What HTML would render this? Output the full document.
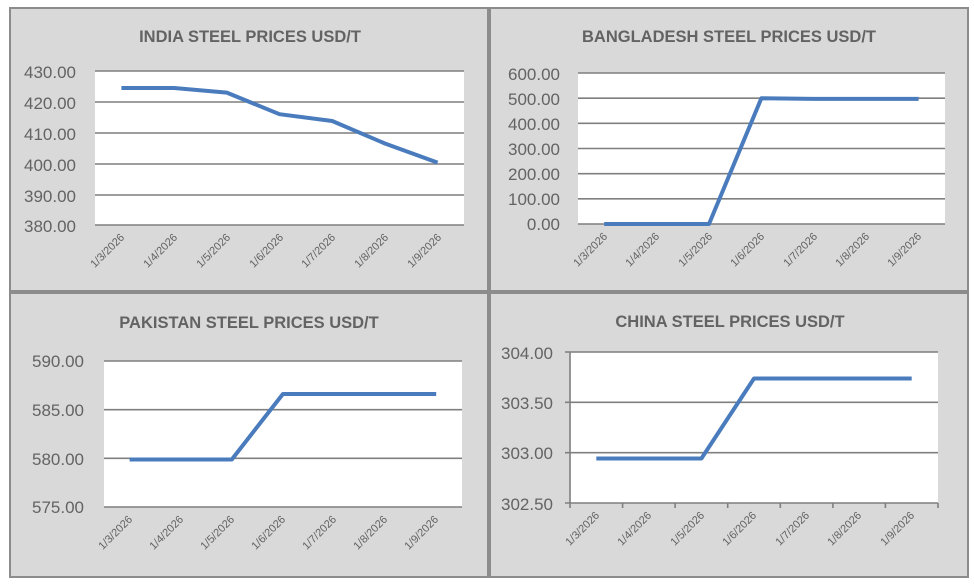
<!DOCTYPE html>
<html><head><meta charset="utf-8"><style>
html,body{margin:0;padding:0;background:#fff;}
svg{display:block;}
text{font-family:"Liberation Sans",sans-serif;fill:#636363;}
.t{font-size:16.5px;font-weight:bold;text-anchor:middle;}
.y{font-size:17px;text-anchor:end;}
.x{font-size:11px;text-anchor:end;}
.g{stroke:#7f7f7f;stroke-width:1.6;}
.s{fill:none;stroke:#4a7cbd;stroke-width:4;stroke-linejoin:round;}
</style></head><body>
<svg width="974" height="588" viewBox="0 0 974 588">
<!-- panels -->
<rect x="10" y="8" width="478" height="283" fill="#d9d9d9" stroke="#8c8c8c" stroke-width="2"/>
<rect x="490" y="8" width="478" height="283" fill="#d9d9d9" stroke="#8c8c8c" stroke-width="2"/>
<rect x="10" y="293" width="478" height="284" fill="#d9d9d9" stroke="#8c8c8c" stroke-width="2"/>
<rect x="490" y="293" width="478" height="284" fill="#d9d9d9" stroke="#8c8c8c" stroke-width="2"/>

<!-- INDIA -->
<text class="t" x="250" y="42">INDIA STEEL PRICES USD/T</text>
<rect x="95" y="71" width="369" height="154" fill="#fff"/>
<g class="g"><line x1="95" x2="464" y1="71" y2="71"/><line x1="95" x2="464" y1="102" y2="102"/><line x1="95" x2="464" y1="133" y2="133"/><line x1="95" x2="464" y1="164" y2="164"/><line x1="95" x2="464" y1="195" y2="195"/><line x1="95" x2="464" y1="225" y2="225"/></g>
<g class="y"><text x="76" y="78">430.00</text><text x="76" y="109">420.00</text><text x="76" y="140">410.00</text><text x="76" y="171">400.00</text><text x="76" y="202">390.00</text><text x="76" y="232">380.00</text></g>
<polyline class="s" points="121.4,88 174.1,88 226.8,92.6 279.5,114.2 332.2,121 384.9,143.5 437.6,162.6"/>
<g class="x">
<text transform="translate(125,238) rotate(-45)">1/3/2026</text>
<text transform="translate(178,238) rotate(-45)">1/4/2026</text>
<text transform="translate(231,238) rotate(-45)">1/5/2026</text>
<text transform="translate(284,238) rotate(-45)">1/6/2026</text>
<text transform="translate(336,238) rotate(-45)">1/7/2026</text>
<text transform="translate(389,238) rotate(-45)">1/8/2026</text>
<text transform="translate(442,238) rotate(-45)">1/9/2026</text>
</g>

<!-- BANGLADESH -->
<text class="t" x="729" y="42">BANGLADESH STEEL PRICES USD/T</text>
<rect x="578" y="73" width="367" height="151" fill="#fff"/>
<g class="g"><line x1="578" x2="945" y1="73" y2="73"/><line x1="578" x2="945" y1="98.2" y2="98.2"/><line x1="578" x2="945" y1="123.3" y2="123.3"/><line x1="578" x2="945" y1="148.5" y2="148.5"/><line x1="578" x2="945" y1="173.7" y2="173.7"/><line x1="578" x2="945" y1="198.8" y2="198.8"/><line x1="578" x2="945" y1="224" y2="224"/></g>
<g class="y"><text x="560" y="80">600.00</text><text x="560" y="105">500.00</text><text x="560" y="130">400.00</text><text x="560" y="155">300.00</text><text x="560" y="180">200.00</text><text x="560" y="205">100.00</text><text x="560" y="230">0.00</text></g>
<polyline class="s" points="604.2,224 656.6,224 709,224 761.4,98.2 813.8,98.9 866.2,98.9 918.6,98.9"/>
<g class="x">
<text transform="translate(608,237) rotate(-45)">1/3/2026</text>
<text transform="translate(660,237) rotate(-45)">1/4/2026</text>
<text transform="translate(713,237) rotate(-45)">1/5/2026</text>
<text transform="translate(765,237) rotate(-45)">1/6/2026</text>
<text transform="translate(818,237) rotate(-45)">1/7/2026</text>
<text transform="translate(870,237) rotate(-45)">1/8/2026</text>
<text transform="translate(922,237) rotate(-45)">1/9/2026</text>
</g>

<!-- PAKISTAN -->
<text class="t" x="249" y="328">PAKISTAN STEEL PRICES USD/T</text>
<rect x="104" y="361" width="358" height="146" fill="#fff"/>
<g class="g"><line x1="104" x2="462" y1="361" y2="361"/><line x1="104" x2="462" y1="409.7" y2="409.7"/><line x1="104" x2="462" y1="458.3" y2="458.3"/><line x1="104" x2="462" y1="507" y2="507"/></g>
<g class="y"><text x="84" y="367">590.00</text><text x="84" y="416">585.00</text><text x="84" y="465">580.00</text><text x="84" y="513">575.00</text></g>
<polyline class="s" points="129.6,459.5 180.7,459.5 231.8,459.5 282.9,394 334,394 385.1,394 436.2,394"/>
<g class="x">
<text transform="translate(133,520) rotate(-45)">1/3/2026</text>
<text transform="translate(184,520) rotate(-45)">1/4/2026</text>
<text transform="translate(235,520) rotate(-45)">1/5/2026</text>
<text transform="translate(286,520) rotate(-45)">1/6/2026</text>
<text transform="translate(337,520) rotate(-45)">1/7/2026</text>
<text transform="translate(388,520) rotate(-45)">1/8/2026</text>
<text transform="translate(439,520) rotate(-45)">1/9/2026</text>
</g>

<!-- CHINA -->
<text class="t" x="730" y="327">CHINA STEEL PRICES USD/T</text>
<rect x="570" y="352" width="368" height="151" fill="#fff"/>
<g class="g"><line x1="565" x2="938" y1="352" y2="352"/><line x1="565" x2="938" y1="402.3" y2="402.3"/><line x1="565" x2="938" y1="452.7" y2="452.7"/><line x1="565" x2="938" y1="503" y2="503"/><line x1="570" x2="570" y1="352" y2="508"/>
<line x1="622.6" x2="622.6" y1="503" y2="508"/><line x1="675.1" x2="675.1" y1="503" y2="508"/><line x1="727.7" x2="727.7" y1="503" y2="508"/><line x1="780.3" x2="780.3" y1="503" y2="508"/><line x1="832.9" x2="832.9" y1="503" y2="508"/><line x1="885.4" x2="885.4" y1="503" y2="508"/><line x1="938" x2="938" y1="503" y2="508"/></g>
<g class="y"><text x="553" y="359">304.00</text><text x="553" y="409">303.50</text><text x="553" y="459">303.00</text><text x="553" y="510">302.50</text></g>
<polyline class="s" points="596.3,458.5 648.9,458.5 701.4,458.5 754,378.5 806.6,378.5 859.1,378.5 911.7,378.5"/>
<g class="x">
<text transform="translate(600,516) rotate(-45)">1/3/2026</text>
<text transform="translate(652,516) rotate(-45)">1/4/2026</text>
<text transform="translate(705,516) rotate(-45)">1/5/2026</text>
<text transform="translate(757,516) rotate(-45)">1/6/2026</text>
<text transform="translate(810,516) rotate(-45)">1/7/2026</text>
<text transform="translate(862,516) rotate(-45)">1/8/2026</text>
<text transform="translate(915,516) rotate(-45)">1/9/2026</text>
</g>
</svg>
</body></html>
